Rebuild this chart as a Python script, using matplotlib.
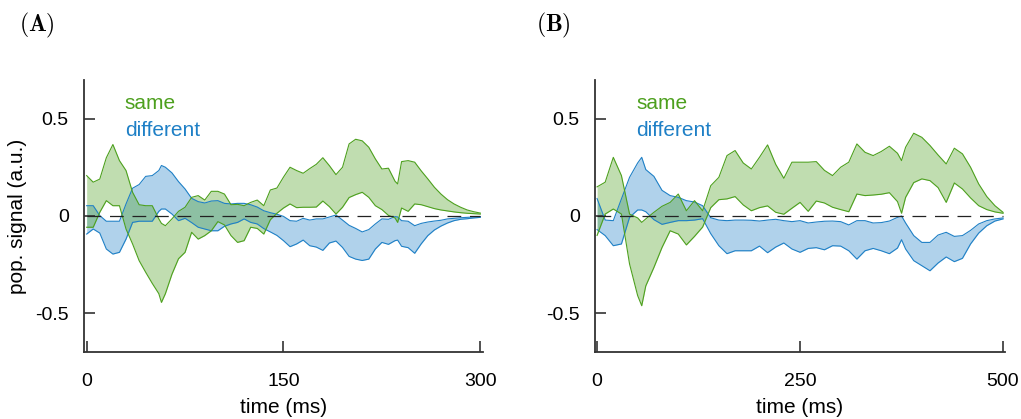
import numpy as np
import matplotlib
matplotlib.use('Agg')
import matplotlib.pyplot as plt

plt.rcParams['font.family'] = ['Liberation Sans', 'DejaVu Sans']
plt.rcParams['mathtext.fontset'] = 'cm'

# ---- panel A: 300 ms window ----
t_a = [0, 5, 10, 15, 20, 25, 30, 35, 40, 45, 50, 55, 57, 60, 65, 70, 75,
       80, 85, 90, 95, 100, 105, 110, 115, 120, 125, 130, 135, 140, 145, 150,
       155, 160, 165, 170, 175, 180, 185, 190, 195, 200, 205, 210, 215, 220, 225,
       230, 235, 237, 240, 245, 250, 255, 260, 265, 270, 275, 280, 285, 290, 295, 300]
same_hi_a = [0.208, 0.174, 0.19, 0.30, 0.368, 0.285, 0.234, 0.122, 0.058, 0.053, 0.053, -0.015, -0.038, -0.05, -0.015, 0.024, 0.045,
             0.096, 0.105, 0.082, 0.127, 0.127, 0.113, 0.058, 0.060, 0.053, 0.07, 0.082, 0.053, 0.134, 0.144, 0.20,
             0.251, 0.234, 0.22, 0.244, 0.266, 0.30, 0.259, 0.213, 0.251, 0.371, 0.395, 0.387, 0.354, 0.294, 0.242,
             0.246, 0.179, 0.165, 0.28, 0.285, 0.277, 0.232, 0.191, 0.148, 0.113, 0.084, 0.062, 0.045, 0.031, 0.022, 0.015]
same_lo_a = [-0.058, -0.058, 0.019, 0.079, 0.053, 0.053, -0.067, -0.144, -0.23, -0.29, -0.347, -0.40, -0.445, -0.40, -0.30, -0.22, -0.187,
             -0.084, -0.119, -0.101, -0.076, -0.029, -0.046, -0.101, -0.136, -0.127, -0.058, -0.064, -0.093, -0.019, 0.014, 0.041,
             0.062, 0.043, 0.045, 0.045, 0.046, 0.077, 0.048, 0.01, 0.045, 0.095, 0.11, 0.122, 0.096, 0.053, 0.033,
             0.003, -0.01, -0.033, 0.041, 0.024, 0.062, 0.058, 0.048, 0.038, 0.031, 0.026, 0.021, 0.017, 0.014, 0.012, 0.01]
diff_hi_a = [0.053, 0.053, 0.002, -0.027, -0.027, -0.027, 0.062, 0.143, 0.162, 0.204, 0.208, 0.234, 0.26, 0.251, 0.222, 0.177, 0.139,
             0.091, 0.074, 0.067, 0.077, 0.079, 0.065, 0.062, 0.065, 0.065, 0.058, 0.046, 0.027, 0.017, 0.009, -0.002,
             -0.024, -0.027, -0.012, -0.021, -0.015, -0.015, -0.005, 0.005, -0.021, -0.048, -0.064, -0.082, -0.07, -0.041, -0.015,
             -0.017, -0.003, -0.005, -0.024, -0.027, -0.05, -0.038, -0.031, -0.026, -0.022, -0.015, -0.012, -0.009, -0.007, -0.005, -0.003]
diff_lo_a = [-0.093, -0.067, -0.088, -0.17, -0.196, -0.187, -0.119, -0.033, -0.027, -0.027, -0.027, 0.024, 0.036, 0.036, 0.01, -0.024, -0.012,
             -0.034, -0.058, -0.067, -0.076, -0.076, -0.053, -0.041, -0.033, -0.015, -0.033, -0.041, -0.065, -0.082, -0.10, -0.127,
             -0.158, -0.144, -0.124, -0.153, -0.16, -0.177, -0.139, -0.129, -0.162, -0.208, -0.222, -0.229, -0.222, -0.17, -0.136,
             -0.146, -0.127, -0.124, -0.156, -0.163, -0.192, -0.143, -0.101, -0.072, -0.052, -0.036, -0.024, -0.017, -0.014, -0.01, -0.007]

# ---- panel B: 500 ms window ----
t_b = [0, 10, 20, 30, 40, 50, 55, 60, 70, 80, 90, 100, 110, 120, 130, 140, 150,
       160, 170, 180, 190, 200, 210, 220, 230, 240, 250, 260, 270, 280, 290, 300,
       310, 320, 330, 340, 350, 360, 370, 375, 380, 390, 400, 410, 420, 430, 440,
       450, 460, 470, 480, 490, 500]
same_hi_b = [0.15, 0.174, 0.302, 0.208, 0.01, -0.01, -0.033, -0.015, 0.019, 0.05, 0.07, 0.113, 0.027, 0.079, 0.027, 0.156, 0.199,
             0.311, 0.337, 0.273, 0.242, 0.302, 0.366, 0.266, 0.194, 0.277, 0.277, 0.277, 0.28, 0.235, 0.208, 0.251,
             0.277, 0.371, 0.328, 0.311, 0.332, 0.359, 0.323, 0.285, 0.354, 0.426, 0.405, 0.363, 0.314, 0.268, 0.349,
             0.32, 0.251, 0.165, 0.10, 0.053, 0.019]
same_lo_b = [-0.10, 0.01, 0.036, 0.01, -0.247, -0.41, -0.462, -0.36, -0.265, -0.162, -0.076, -0.093, -0.149, -0.105, -0.057, 0.043, 0.084,
             0.088, 0.10, 0.057, 0.027, 0.043, 0.052, 0.019, 0.009, 0.04, 0.07, 0.024, 0.077, 0.067, 0.045, 0.033,
             0.022, 0.113, 0.105, 0.108, 0.112, 0.12, 0.074, 0.014, 0.096, 0.172, 0.191, 0.182, 0.146, 0.07, 0.17,
             0.139, 0.093, 0.053, 0.033, 0.021, 0.014]
diff_hi_b = [0.09, -0.021, -0.024, 0.088, 0.199, 0.273, 0.302, 0.239, 0.204, 0.132, 0.105, 0.096, 0.079, 0.072, 0.053, -0.009, -0.021,
             -0.024, -0.021, -0.021, -0.022, -0.026, -0.021, -0.017, -0.024, -0.029, -0.024, -0.036, -0.031, -0.027, -0.026, -0.029,
             -0.046, -0.024, -0.024, -0.036, -0.034, -0.026, -0.007, 0.0, -0.036, -0.101, -0.136, -0.136, -0.098, -0.084, -0.105,
             -0.101, -0.074, -0.041, -0.024, -0.015, -0.01]
diff_lo_b = [-0.07, -0.101, -0.153, -0.144, -0.007, 0.031, 0.031, 0.022, -0.019, -0.043, -0.033, -0.024, -0.024, -0.021, -0.014, -0.091, -0.153,
             -0.194, -0.179, -0.179, -0.179, -0.155, -0.189, -0.16, -0.139, -0.17, -0.187, -0.167, -0.163, -0.174, -0.153, -0.155,
             -0.179, -0.222, -0.179, -0.167, -0.179, -0.194, -0.165, -0.122, -0.17, -0.23, -0.256, -0.282, -0.242, -0.211, -0.235,
             -0.218, -0.144, -0.088, -0.05, -0.026, -0.015]

green = '#4da01e'
blue = '#1f80c6'
axis_col = '#333333'

fig = plt.figure(figsize=(10.21, 4.19), dpi=100)
ax_a = fig.add_axes([0.0823, 0.160, 0.3907, 0.649])
ax_b = fig.add_axes([0.5828, 0.160, 0.4016, 0.649])


def draw_panel(ax, t, s_hi, s_lo, d_hi, d_lo, xlim, xticks, txt_x):
    t = np.asarray(t)
    ax.fill_between(t, d_lo, d_hi, color=blue, alpha=0.35, lw=0)
    ax.plot(t, d_hi, color=blue, lw=0.8)
    ax.plot(t, d_lo, color=blue, lw=0.8)
    ax.fill_between(t, s_lo, s_hi, color=green, alpha=0.35, lw=0)
    ax.plot(t, s_hi, color=green, lw=0.8)
    ax.plot(t, s_lo, color=green, lw=0.8)
    ax.plot([t[0], t[-1]], [0, 0], color='#222222', lw=0.9, dashes=(11, 7))

    ax.set_xlim(*xlim)
    ax.set_ylim(-0.7, 0.7)
    ax.set_xticks(xticks)
    ax.set_xticklabels([str(v) for v in xticks])
    ax.set_yticks([-0.5, 0, 0.5])
    ax.set_yticklabels(['-0.5', '0', '0.5'])
    for side in ['top', 'right']:
        ax.spines[side].set_visible(False)
    for side in ['left', 'bottom']:
        ax.spines[side].set_color(axis_col)
        ax.spines[side].set_linewidth(1.3)
    ax.tick_params(direction='in', length=8, width=1.2, color=axis_col,
                   labelsize=14)
    ax.tick_params(axis='x', pad=15)
    ax.tick_params(axis='y', pad=11)
    ax.set_xlabel('time (ms)', fontsize=15, labelpad=6)

    ax.text(txt_x, 0.55, 'same', color=green, fontsize=15, va='baseline')
    ax.text(txt_x, 0.41, 'different', color=blue, fontsize=15, va='baseline')


draw_panel(ax_a, t_a, same_hi_a, same_lo_a, diff_hi_a, diff_lo_a,
           (-2, 302), [0, 150, 300], 29)
draw_panel(ax_b, t_b, same_hi_b, same_lo_b, diff_hi_b, diff_lo_b,
           (-2.5, 502.5), [0, 250, 500], 48)

ax_a.set_ylabel('pop. signal (a.u.)', fontsize=15, labelpad=6)

fig.text(0.019, 0.925, r'$\mathbf{(A)}$', fontsize=17)
fig.text(0.525, 0.925, r'$\mathbf{(B)}$', fontsize=17)

fig.savefig('out.png', dpi=100)
